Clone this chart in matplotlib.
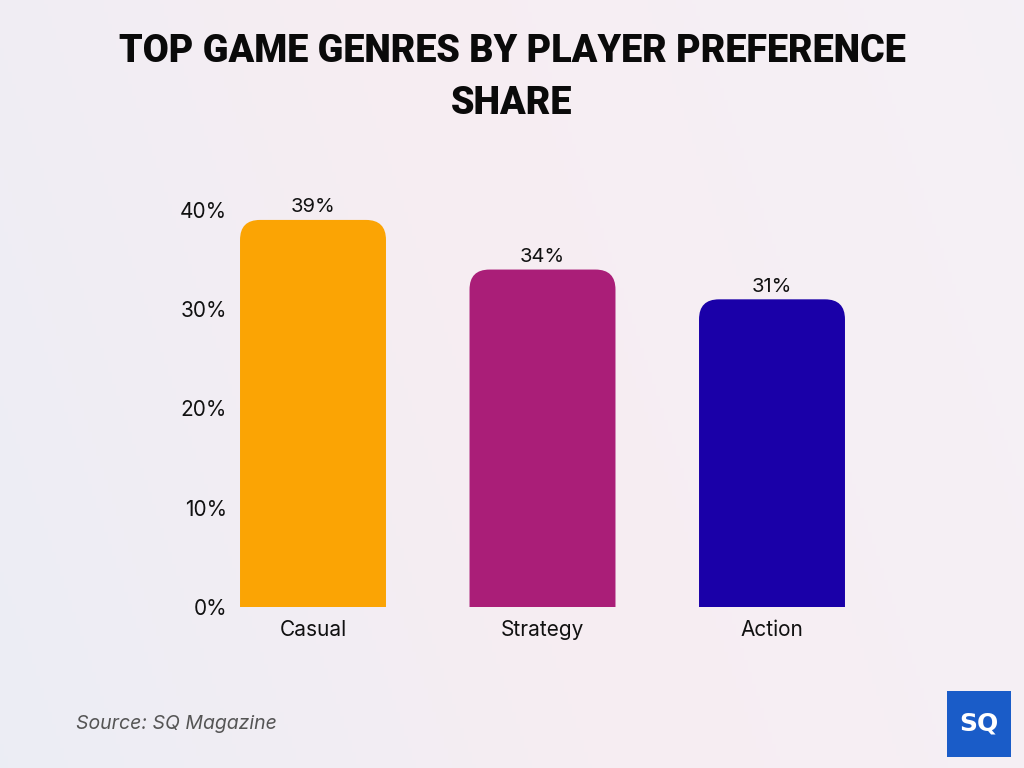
import matplotlib.pyplot as plt
import matplotlib.patches as mpatches
from matplotlib.path import Path
import numpy as np

genres = ['Casual', 'Strategy', 'Action']
shares = [39, 34, 31]
bar_colors = ['#FBA404', '#AA1E78', '#1A00A8']
yticks = [0, 10, 20, 30, 40]

W, H = 1024, 768
fig = plt.figure(figsize=(W / 100, H / 100), dpi=100)

# soft gradient background
bg = fig.add_axes([0, 0, 1, 1], zorder=-10)
gx = np.linspace(0, 1, 256)
gy = np.linspace(0, 1, 192)
X, Y = np.meshgrid(gx, gy)
c_left = np.array([0.925, 0.933, 0.960])
c_mid = np.array([0.968, 0.930, 0.950])
c_right = np.array([0.960, 0.945, 0.965])
t = np.clip(X * 0.8 + (1 - Y) * 0.2, 0, 1)[..., None]
img = np.where(t < 0.5, c_left + (c_mid - c_left) * (t / 0.5),
               c_mid + (c_right - c_mid) * ((t - 0.5) / 0.5))
bg.imshow(img, aspect='auto', extent=[0, 1, 0, 1])
bg.axis('off')

# plot axes: x categories at 313, 543, 772 px; y 0 at 607 px, 40 at 210 px
x0, x1 = -0.35, 2.35
px_per_unit = 229.5
left = 313 + x0 * px_per_unit
right = 313 + x1 * px_per_unit
bottom = H - 607
top = H - 210
ax = fig.add_axes([left / W, bottom / H, (right - left) / W, (top - bottom) / H])
ax.set_xlim(x0, x1)
ax.set_ylim(0, 40)
ax.patch.set_alpha(0)
for s in ax.spines.values():
    s.set_visible(False)

bw = 0.636
r_px = 20
rx = r_px / px_per_unit
ry = r_px / ((top - bottom) / 40)


def rounded_top_bar(xc, h, color):
    xl, xr = xc - bw / 2, xc + bw / 2
    verts = [(xl, 0), (xl, h - ry), (xl, h), (xl + rx, h),
             (xr - rx, h), (xr, h), (xr, h - ry), (xr, 0), (xl, 0)]
    codes = [Path.MOVETO, Path.LINETO, Path.CURVE3, Path.CURVE3,
             Path.LINETO, Path.CURVE3, Path.CURVE3, Path.LINETO, Path.CLOSEPOLY]
    ax.add_patch(mpatches.PathPatch(Path(verts, codes), facecolor=color,
                                    edgecolor='none'))


for i, (v, c) in enumerate(zip(shares, bar_colors)):
    rounded_top_bar(i, v, c)
    ax.text(i, v + 0.35, f'{v}%', ha='center', va='bottom', fontsize=14.5,
            family='Inter', color='#111111')

ax.set_xticks(range(len(genres)))
ax.set_xticklabels(genres, fontsize=15, family='Inter', color='#111111')
ax.set_yticks(yticks)
ax.set_yticklabels([f'{v}%' for v in yticks], fontsize=15, family='Inter',
                   color='#111111')
ax.tick_params(length=0, axis='x', pad=9)
ax.tick_params(length=0, axis='y', pad=4)

fig.text(0.5, 1 - 52 / H, 'TOP GAME GENRES BY PLAYER PREFERENCE', ha='center',
         va='center', fontsize=27.2, family='Roboto', weight='black', color='#0a0a0a')
fig.text(0.5, 1 - 103 / H, 'SHARE', ha='center', va='center', fontsize=27.2,
         family='Roboto', weight='black', color='#0a0a0a')

fig.text(76 / W, 1 - 724 / H, 'Source: SQ Magazine', ha='left', va='center',
         fontsize=14, style='italic', family='Inter', color='#555555')

# SQ logo
logo = mpatches.Rectangle((947 / W, 1 - 757 / H), 64 / W, 66 / H,
                          transform=fig.transFigure, facecolor='#1a5cc8',
                          edgecolor='none')
fig.patches.append(logo)
fig.text(979 / W, 1 - 724 / H, 'SQ', ha='center', va='center', fontsize=18,
         weight='bold', family='DejaVu Sans', color='white')

fig.savefig('out.png', dpi=100)
